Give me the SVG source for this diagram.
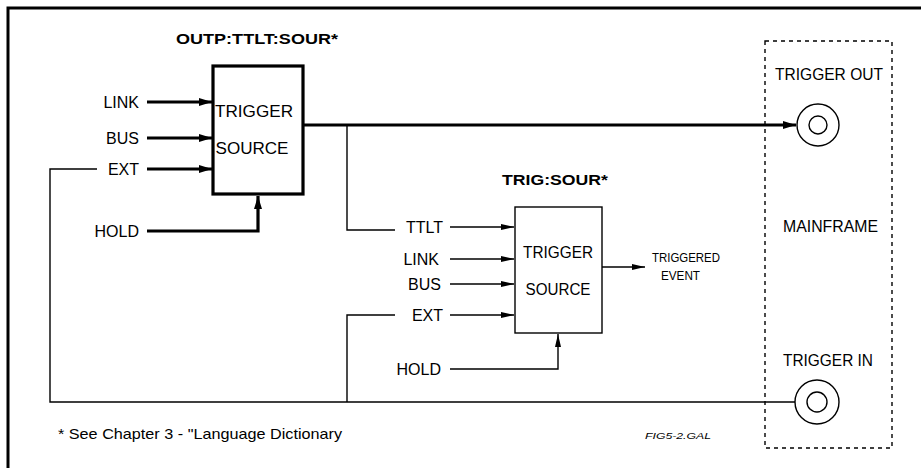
<svg xmlns="http://www.w3.org/2000/svg" width="921" height="468" viewBox="0 0 921 468">
<style>
text{font-family:"Liberation Sans",Arial,sans-serif;fill:#000}
.lbl{font-size:16px}
.box{font-size:16px;text-anchor:middle}
.ttl{font-size:15px;font-weight:bold}
.thick{stroke:#000;stroke-width:3.2;fill:none}
.thin{stroke:#000;stroke-width:1.4;fill:none}
</style>
<defs>
<marker id="ah" markerUnits="userSpaceOnUse" markerWidth="14" markerHeight="10" refX="13" refY="5" orient="auto">
<path d="M0,1 L13,5 L0,9 Z" fill="#000"/>
</marker>
<marker id="ahs" markerUnits="userSpaceOnUse" markerWidth="14" markerHeight="8" refX="13" refY="4" orient="auto">
<path d="M0,1 L13,4 L0,7 Z" fill="#000"/>
</marker>
</defs>
<rect x="8" y="8" width="930" height="480" fill="none" stroke="#000" stroke-width="3"/>

<g id="connectors">
<line class="thick" x1="147" y1="102" x2="212" y2="102" marker-end="url(#ah)"/>
<line class="thick" x1="147" y1="138" x2="212" y2="138" marker-end="url(#ah)"/>
<line class="thick" x1="147" y1="169" x2="212" y2="169" marker-end="url(#ah)"/>
<polyline class="thick" points="147,231 258,231 258,196" marker-end="url(#ah)"/>
<line class="thick" x1="303" y1="125" x2="796" y2="125" marker-end="url(#ah)"/>
<polyline class="thin" points="347,125 347,230 395,230"/>
<polyline class="thin" points="97,169 50,169 50,402 795,402"/>
<polyline class="thin" points="395,315 347,315 347,402"/>
<line class="thin" x1="450" y1="227" x2="514" y2="227" marker-end="url(#ahs)"/>
<line class="thin" x1="450" y1="259" x2="514" y2="259" marker-end="url(#ahs)"/>
<line class="thin" x1="450" y1="284" x2="514" y2="284" marker-end="url(#ahs)"/>
<line class="thin" x1="450" y1="315" x2="514" y2="315" marker-end="url(#ahs)"/>
<polyline class="thin" points="450,369 558,369 558,334" marker-end="url(#ahs)"/>
<line class="thin" x1="602" y1="267" x2="645" y2="267" marker-end="url(#ahs)"/>
</g>

<g id="outp-source">
<text class="ttl" x="176" y="44" textLength="162" lengthAdjust="spacingAndGlyphs">OUTP:TTLT:SOUR*</text>
<rect x="213" y="66" width="90" height="128" fill="#fff" stroke="#000" stroke-width="3.2"/>
<text class="box" x="254" y="117" textLength="78" lengthAdjust="spacingAndGlyphs">TRIGGER</text>
<text class="box" x="252" y="154" textLength="73" lengthAdjust="spacingAndGlyphs">SOURCE</text>
<text class="lbl" x="139" y="108" text-anchor="end">LINK</text>
<text class="lbl" x="139" y="144" text-anchor="end">BUS</text>
<text class="lbl" x="139" y="175" text-anchor="end">EXT</text>
<text class="lbl" x="139" y="237" text-anchor="end">HOLD</text>
</g>

<g id="trig-source">
<text class="ttl" x="502" y="185" textLength="106" lengthAdjust="spacingAndGlyphs">TRIG:SOUR*</text>
<rect x="515" y="207" width="87" height="126" fill="#fff" stroke="#000" stroke-width="1.4"/>
<text class="box" x="558" y="258" textLength="70" lengthAdjust="spacingAndGlyphs">TRIGGER</text>
<text class="box" x="558" y="295" textLength="65" lengthAdjust="spacingAndGlyphs">SOURCE</text>
<text class="lbl" x="443" y="233" text-anchor="end">TTLT</text>
<text class="lbl" x="439" y="265" text-anchor="end">LINK</text>
<text class="lbl" x="441" y="290" text-anchor="end">BUS</text>
<text class="lbl" x="443" y="321" text-anchor="end">EXT</text>
<text class="lbl" x="441" y="375" text-anchor="end">HOLD</text>
</g>

<g id="triggered-event">
<text x="652" y="262" font-size="13" textLength="68" lengthAdjust="spacingAndGlyphs">TRIGGERED</text>
<text x="661" y="280" font-size="13" textLength="39" lengthAdjust="spacingAndGlyphs">EVENT</text>
</g>

<g id="mainframe">
<rect x="765" y="41" width="127" height="407" fill="none" stroke="#000" stroke-width="1.4" stroke-dasharray="4 4"/>
<text x="775" y="80" font-size="16" textLength="108" lengthAdjust="spacingAndGlyphs">TRIGGER OUT</text>
<text x="783" y="232" font-size="16" textLength="95" lengthAdjust="spacingAndGlyphs">MAINFRAME</text>
<text x="783" y="366" font-size="16" textLength="90" lengthAdjust="spacingAndGlyphs">TRIGGER IN</text>
</g>

<g id="trigger-out">
<circle cx="818" cy="125" r="21" fill="none" stroke="#000" stroke-width="1.4"/>
<circle cx="818" cy="125" r="9" fill="none" stroke="#000" stroke-width="1.4"/>
</g>

<g id="trigger-in">
<circle cx="817" cy="402" r="22" fill="none" stroke="#000" stroke-width="1.4"/>
<circle cx="817" cy="402" r="10" fill="none" stroke="#000" stroke-width="1.4"/>
</g>

<text x="58" y="439" font-size="15" textLength="284" lengthAdjust="spacingAndGlyphs">* See Chapter 3 - "Language Dictionary</text>
<text x="645" y="439" font-size="9" font-style="italic" textLength="66" lengthAdjust="spacingAndGlyphs">FIG5-2.GAL</text>
</svg>
